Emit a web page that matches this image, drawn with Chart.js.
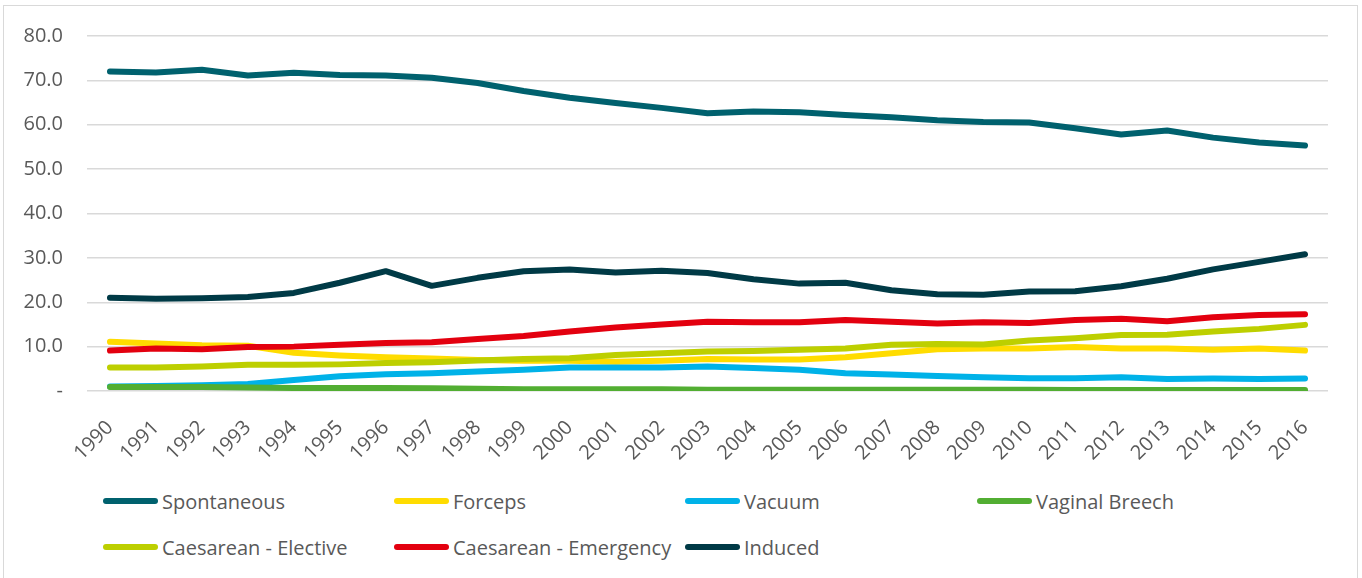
<!DOCTYPE html>
<html>
<head>
<meta charset="utf-8">
<script src="https://cdn.jsdelivr.net/npm/chart.js@4/dist/chart.umd.min.js"></script>
<style>
  body { margin: 0; background: #fff; width: 1362px; height: 578px; overflow: hidden; position: relative; font-family: "Open Sans", sans-serif; }
  #frame { position: absolute; left: 3px; top: 5px; width: 1353px; height: 620px; border: 1px solid #d9d9d9; }
  #chart { position: absolute; left: 0; top: 0; }
  #legend { position: absolute; left: 0; top: 0; }
  .item { position: absolute; height: 30px; display: flex; align-items: center; color: #595959; font-size: 20px; white-space: nowrap; }
  .swatch { width: 55px; height: 6px; border-radius: 3px; margin-right: 4px; }
</style>
</head>
<body>
<div id="frame"></div>
<canvas id="chart" width="1362" height="470"></canvas>
<div id="legend"></div>
<script>
// years on the x axis
const years = ["1990","1991","1992","1993","1994","1995","1996","1997","1998","1999","2000","2001","2002","2003","2004","2005","2006","2007","2008","2009","2010","2011","2012","2013","2014","2015","2016"];

const spontaneous = [72.0, 71.8, 72.4, 71.1, 71.7, 71.2, 71.1, 70.6, 69.4, 67.6, 66.1, 64.9, 63.8, 62.6, 63.0, 62.8, 62.2, 61.7, 61.0, 60.6, 60.5, 59.2, 57.8, 58.7, 57.1, 56.0, 55.3];
const forceps = [11.1, 10.7, 10.3, 10.2, 8.6, 8.0, 7.6, 7.3, 7.0, 6.8, 6.8, 6.6, 6.8, 7.2, 7.1, 7.1, 7.6, 8.5, 9.4, 9.6, 9.6, 9.9, 9.6, 9.6, 9.3, 9.6, 9.1];
const vacuum = [1.0, 1.1, 1.3, 1.6, 2.5, 3.3, 3.8, 4.0, 4.4, 4.8, 5.3, 5.3, 5.3, 5.5, 5.2, 4.8, 4.0, 3.7, 3.4, 3.1, 2.9, 2.9, 3.1, 2.7, 2.8, 2.7, 2.8];
const vaginalBreech = [0.9, 0.9, 0.9, 0.8, 0.7, 0.7, 0.7, 0.6, 0.5, 0.4, 0.4, 0.4, 0.4, 0.3, 0.3, 0.3, 0.3, 0.3, 0.3, 0.3, 0.3, 0.2, 0.2, 0.2, 0.2, 0.2, 0.2];
const caesElective = [5.3, 5.3, 5.5, 5.9, 5.9, 6.0, 6.3, 6.5, 6.9, 7.2, 7.4, 8.1, 8.5, 8.9, 9.0, 9.3, 9.6, 10.4, 10.6, 10.5, 11.4, 11.9, 12.6, 12.7, 13.4, 14.0, 14.9];
const caesEmergency = [9.1, 9.6, 9.4, 9.9, 10.0, 10.4, 10.8, 11.0, 11.7, 12.4, 13.4, 14.3, 15.0, 15.6, 15.5, 15.5, 16.0, 15.6, 15.2, 15.5, 15.3, 16.0, 16.3, 15.7, 16.6, 17.1, 17.3];
const induced = [21.0, 20.8, 20.9, 21.2, 22.1, 24.4, 27.0, 23.7, 25.5, 27.0, 27.4, 26.7, 27.1, 26.6, 25.2, 24.2, 24.4, 22.7, 21.8, 21.7, 22.4, 22.5, 23.6, 25.3, 27.4, 29.1, 30.8];

const seriesNames = ["Spontaneous", "Forceps", "Vacuum", "Vaginal Breech", "Caesarean - Elective", "Caesarean - Emergency", "Induced"];
const seriesData = [spontaneous, forceps, vacuum, vaginalBreech, caesElective, caesEmergency, induced];
const seriesColors = ["#00616e", "#ffdc00", "#00b2e8", "#52ae32", "#bdcf00", "#e3000f", "#003a46"];

const textColor = "#595959";
const font = { family: "'Open Sans', sans-serif", size: 20 };

const datasets = seriesNames.map((name, i) => ({
    label: name,
    data: seriesData[i],
    borderColor: seriesColors[i],
    backgroundColor: seriesColors[i],
    borderWidth: 6,
    borderCapStyle: "round",
    borderJoinStyle: "round",
    pointRadius: 0,
    tension: 0,
    fill: false,
    order: seriesNames.length - i // later series drawn on top, like the original
}));

const chart = new Chart(document.getElementById("chart"), {
    type: "line",
    data: { labels: years, datasets: datasets },
    options: {
        responsive: false,
        animation: false,
        events: [],
        layout: { padding: { top: 35, right: 34, left: 0, bottom: 0 } },
        plugins: { legend: { display: false }, tooltip: { enabled: false } },
        scales: {
            x: {
                offset: true,
                grid: { display: false },
                border: { display: false },
                ticks: { color: textColor, font: font, minRotation: 45, maxRotation: 45, padding: 17, autoSkip: false },
                afterFit: function(scale){ scale.height = 79; }
            },
            y: {
                min: 0,
                max: 80,
                grid: { color: "#d9d9d9", lineWidth: 1.5, drawTicks: false },
                border: { display: false },
                ticks: {
                    stepSize: 10,
                    color: textColor,
                    font: font,
                    padding: 24,
                    callback: v => v === 0 ? "-" : v.toFixed(1)
                },
                afterFit: function(scale){ scale.width = 87; }
            }
        }
    }
});

// legend laid out in fixed columns as in the original
const legend = document.getElementById("legend");
const colX = [103, 394, 685, 977];
const rowY = [486, 532];
chart.data.datasets.forEach((ds, i) => {
    const item = document.createElement("div");
    item.className = "item";
    item.style.left = colX[i % 4] + "px";
    item.style.top = rowY[Math.floor(i / 4)] + "px";
    const sw = document.createElement("span");
    sw.className = "swatch";
    sw.style.backgroundColor = ds.borderColor;
    const label = document.createElement("span");
    label.innerText = ds.label;
    item.appendChild(sw);
    item.appendChild(label);
    legend.appendChild(item);
});
</script>
</body>
</html>
